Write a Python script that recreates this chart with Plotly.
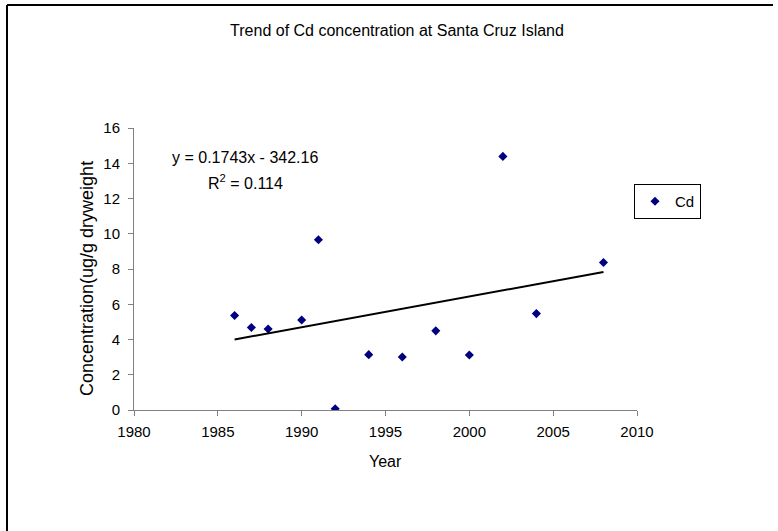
import numpy as np
import plotly.graph_objects as go

years = [1986, 1987, 1988, 1990, 1991, 1992, 1994, 1996, 1998, 2000, 2002, 2004, 2008]
cd = [5.36, 4.68, 4.60, 5.11, 9.66, 0.07, 3.14, 3.01, 4.49, 3.12, 14.39, 5.47, 8.37]
x_ticks = [1980, 1985, 1990, 1995, 2000, 2005, 2010]
y_ticks = [0, 2, 4, 6, 8, 10, 12, 14, 16]
slope, intercept = 0.1743, -342.16

W, H = 778, 531
L, R, T, B = 134, 637, 128, 410
FONT = "Arial, Liberation Sans, sans-serif"

trend_x = [min(years), max(years)]
trend_y = [slope * v + intercept for v in trend_x]

fig = go.Figure()
fig.add_trace(go.Scatter(
    x=years, y=cd, mode="markers", name="Cd",
    marker=dict(symbol="diamond", size=7, color="#000080"),
))
fig.add_trace(go.Scatter(
    x=trend_x, y=trend_y, mode="lines", showlegend=False,
    line=dict(color="black", width=2),
))

def px2paper_x(px):
    return (px - L) / (R - L)

def px2paper_y(py):
    return (B - py) / (B - T)

axis_common = dict(
    showgrid=False, zeroline=False, showline=True, linecolor="#808080",
    linewidth=1, ticks="outside", ticklen=5, tickcolor="#808080",
    tickfont=dict(family=FONT, size=15, color="black"),
)

def note(text, px, py, size, angle=0):
    return dict(text=text, xref="paper", yref="paper", x=px2paper_x(px), y=px2paper_y(py),
                xanchor="center", yanchor="middle", textangle=angle,
                showarrow=False, font=dict(family=FONT, size=size, color="black"))

fig.update_layout(
    width=W, height=H,
    margin=dict(l=L, r=W - R, t=T, b=H - B, pad=0),
    paper_bgcolor="white", plot_bgcolor="white",
    font=dict(family=FONT, size=15, color="black"),
    title=dict(text="Trend of Cd concentration at Santa Cruz Island",
               x=397 / W, xref="container", xanchor="center",
               y=1 - 30 / H, yref="container", yanchor="middle",
               font=dict(family=FONT, size=16, color="black")),
    xaxis=dict(range=[1980, 2010], tickvals=x_ticks, ticklabelstandoff=3, **axis_common),
    yaxis=dict(range=[0, 16], tickvals=y_ticks, ticklabelstandoff=5, **axis_common),
    showlegend=True,
    legend=dict(x=px2paper_x(634), y=px2paper_y(184), xanchor="left", yanchor="top",
                bgcolor="white", bordercolor="black", borderwidth=1,
                font=dict(family=FONT, size=15, color="black"),
                itemwidth=30, tracegroupgap=0),
    annotations=[
        note("Year", 385, 461, 16),
        note("Concentration(ug/g dryweight", 87, 279, 18, -90),
        note("y = 0.1743x - 342.16", 245, 157, 16),
        note("R<sup>2</sup> = 0.114", 245, 182, 16),
    ],
    shapes=[
        dict(type="line", xref="paper", yref="paper",
             x0=px2paper_x(7), x1=px2paper_x(7), y0=px2paper_y(5), y1=px2paper_y(531),
             line=dict(color="black", width=2)),
        dict(type="line", xref="paper", yref="paper",
             x0=px2paper_x(7), x1=px2paper_x(773), y0=px2paper_y(5), y1=px2paper_y(5),
             line=dict(color="black", width=2)),
    ],
)

fig.write_html("out.html", config={"displayModeBar": False},
               post_script="document.body.style.margin='0';")
